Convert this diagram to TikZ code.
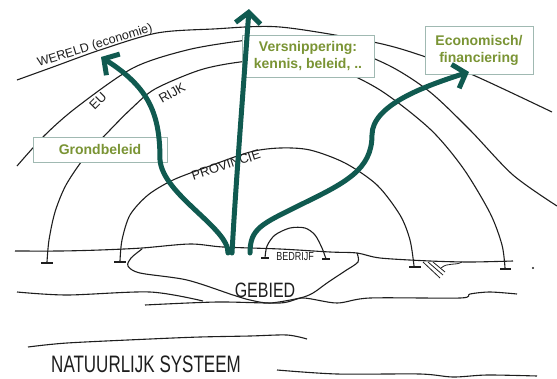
\documentclass[tikz,border=0pt]{standalone}
\usepackage{fontspec}
\setmainfont{Liberation Sans}
\usetikzlibrary{arrows.meta}
\definecolor{arrgreen}{RGB}{16,90,80}
\definecolor{boxtext}{RGB}{122,148,52}
\definecolor{boxline}{RGB}{160,185,178}
\definecolor{ink}{RGB}{30,30,30}

\begin{document}
\begin{tikzpicture}[x=1pt, y=-1pt,
        arc/.style={draw=ink, line width=1.1pt},
        tick/.style={draw=ink, line width=2pt},
        box/.style={draw=boxline, line width=1pt, fill=white, text=boxtext, align=center, font=\bfseries\fontsize{14}{17}\selectfont},
        hand/.style={text=ink, inner sep=0pt},
        arr/.style={draw=arrgreen, line width=5pt, line cap=round, -{Straight Barb[length=11pt,width=25pt]}}]
            \useasboundingbox (0,0) rectangle (557,378);

            \draw[arc] plot[smooth] coordinates {(17,80) (53,67) (100,50) (157,33) (213,29) (280,27) (373,42) (420,55) (473,75) (552,112)};
            \draw[arc] plot[smooth] coordinates {(17,166) (45,135) (77,107) (133,68) (187,50) (240,41) (285,37) (340,46) (390,66) (430,92) (470,130) (513,175) (557,206)};
            \draw[arc] plot[smooth] coordinates {(47,262) (49,240) (55,212) (66,185) (85,157) (110,130) (132,108) (155,89) (200,70) (240,62) (285,59) (330,66) (380,90) (430,129) (463,168) (490,213) (502,245) (505,268)};
            \draw[arc] plot[smooth] coordinates {(120,261) (122,240) (130,215) (148,195) (173,180) (207,167) (250,152) (280,148) (310,150) (345,163) (377,185) (400,215) (410,240) (414,266)};

            \draw[tick] (41,263) -- (53,263);
            \draw[tick] (114,262) -- (126,262);
            \draw[tick] (409,267) -- (421,267);
            \draw[tick] (500,269) -- (511,269);

            \draw[arc] plot[smooth] coordinates {(15,251) (60,251) (100,250) (142,248) (190,244) (223,247) (280,249) (330,252) (357,253) (380,258) (430,261) (470,262) (513,261)};
            \draw[arc] plot[smooth] coordinates {(357,253) (358,262) (345,271) (327,283) (313,293) (300,298) (270,303) (250,300) (233,295) (187,280) (140,273) (128,266) (131,258) (142,249)};
            \draw[arc] plot[smooth] coordinates {(265,258) (267,246) (275,235) (290,228) (305,228) (315,235) (322,248) (326,259)};
            \draw[tick, line width=1.5pt] (261,258) -- (269,258);
            \draw[tick, line width=1.5pt] (322,259) -- (330,259);

            \draw[arc, line width=0.8pt] (423,262) -- (440,278) (428,262) -- (443,275) (433,262) -- (445,272);
            \draw[arc, line width=0.8pt] (441,268) .. controls (448,262) and (455,266) .. (462,262);
            \fill[ink] (533,268) circle (1.2pt);

            \draw[arc] plot[smooth] coordinates {(17,292) (67,295) (150,292) (203,301)};
            \draw[arc] plot[smooth] coordinates {(145,305) (217,302) (280,303) (303,298) (337,303) (370,298) (460,298) (470,294) (490,292) (517,294)};
            \draw[arc] plot[smooth] coordinates {(28,347) (67,343) (150,339) (200,337) (250,336) (287,335) (307,339)};
            \draw[arc] plot[smooth] coordinates {(277,370) (337,374) (420,374) (453,377) (487,375) (537,376)};

            \node[hand, font=\fontsize{12.5}{14}\selectfont, rotate=17] (wereld) at (95,46) {WERELD (economie)};
            \node[hand, font=\fontsize{13}{15}\selectfont, rotate=45] (eu) at (98,101) {EU};
            \node[hand, font=\fontsize{13}{15}\selectfont, rotate=30] (rijk) at (172,93) {RIJK};
            \node[hand, font=\fontsize{13}{15}\selectfont, rotate=18] (provincie) at (226,165) {PROVINCIE};
            \node[hand, font=\fontsize{16}{18}\selectfont] (gebied) at (265,290) {\scalebox{1}[1.3]{GEBIED}};
            \node[hand, font=\fontsize{9}{11}\selectfont] (bedrijf) at (295,257) {\scalebox{1}[1.3]{BEDRIJF}};
            \node[hand, font=\fontsize{17}{19}\selectfont] (natuur) at (146,364) {\scalebox{1}[1.4]{NATUURLIJK SYSTEEM}};

            \node[box, minimum width=134pt, minimum height=25pt] (grond) at (100,149.5) {Grondbeleid};
            \node[box, minimum width=132pt, minimum height=42pt] (versn) at (308,56) {Versnippering:\\kennis, beleid, ..};
            \node[box, minimum width=108pt, minimum height=48pt] (econ) at (479,50) {Economisch/\\financiering};

            \coordinate (g1) at (228,253);
            \coordinate (g2) at (232,253);
            \coordinate (g3) at (250,253);
            \coordinate (m1) at (160,160);
            \coordinate (m3a) at (300,205);
            \coordinate (m3b) at (372,135);
            \coordinate (t1) at (101,57);
            \coordinate (t2) at (249,9);
            \coordinate (t3) at (469,72);

            \draw[arr] (g1) .. controls (229,228) and (163,195) .. (m1) .. controls (160,115) and (150,88) .. (t1);
            \draw[arr] (g2) .. controls (236,180) and (244,80) .. (t2);
            \draw[arr] (g3) .. controls (250,228) and (262,224) .. (m3a) .. controls (345,183) and (372,170) .. (m3b) .. controls (372,105) and (425,86) .. (t3);
        \end{tikzpicture}
\end{document}
